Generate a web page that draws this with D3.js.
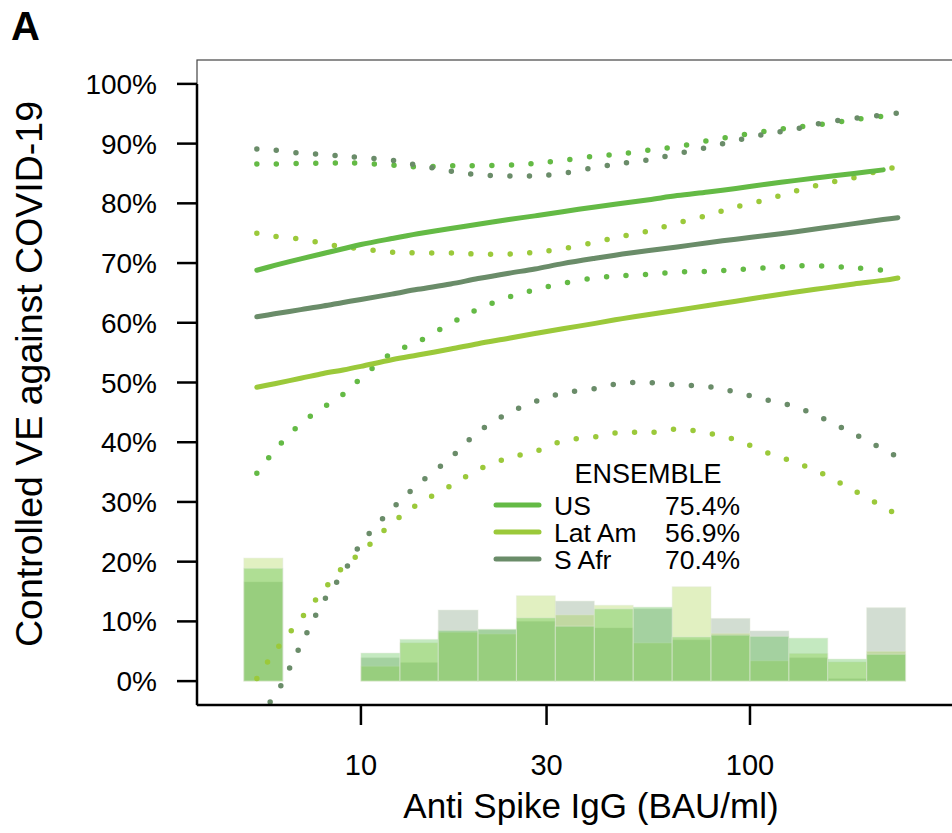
<!DOCTYPE html>
<html>
<head>
<meta charset="utf-8">
<script src="https://cdn.jsdelivr.net/npm/d3@7"></script>
<style>
  html, body { margin: 0; padding: 0; background: #ffffff; }
  svg { display: block; font-family: "Liberation Sans", Arial, Helvetica, sans-serif; }
</style>
</head>
<body>
<svg id="chart" width="952" height="833"></svg>
<script>
// Anti Spike IgG grid (BAU/ml) at which the curves are evaluated
const igg = [5.4, 6, 7, 8, 9, 10, 12, 14, 17, 20, 24, 28, 33, 40, 47, 55, 65, 78, 92, 110, 130, 155, 185, 220, 240];

// Controlled vaccine efficacy (%) with pointwise 95% bounds, per region
const usVE     = [68.8, 69.6, 70.7, 71.6, 72.4, 73.1, 74.1, 74.9, 75.8, 76.5, 77.3, 77.9, 78.6, 79.4, 80.0, 80.6, 81.3, 81.9, 82.5, 83.2, 83.8, 84.4, 85.0, 85.6];
const usUpper  = [86.6, 86.6, 86.7, 86.7, 86.8, 86.7, 86.4, 86.1, 86.3, 86.3, 86.4, 86.7, 87.2, 87.9, 88.3, 88.9, 89.5, 90.5, 91.3, 92.1, 92.7, 93.3, 94.0, 94.6];
const usLower  = [34.8, 38.6, 43.1, 45.8, 48.0, 50.7, 54.9, 56.8, 59.9, 62.3, 64.3, 65.5, 66.6, 67.5, 67.9, 68.1, 68.5, 68.6, 68.9, 69.2, 69.5, 69.5, 69.2, 68.8];

const latVE    = [49.2, 49.8, 50.7, 51.5, 52.1, 52.7, 53.8, 54.6, 55.6, 56.5, 57.4, 58.2, 59.0, 59.9, 60.7, 61.4, 62.1, 62.9, 63.6, 64.4, 65.1, 65.8, 66.5, 67.1, 67.5];
const latUpper = [75.0, 74.5, 74.0, 73.3, 72.7, 72.4, 71.8, 71.7, 71.7, 71.5, 71.5, 71.8, 72.4, 73.5, 74.5, 75.4, 76.7, 78.0, 79.4, 80.6, 82.0, 83.3, 84.3, 85.6, 86.1];
const latLower = [0.45, 4.9, 10.4, 15.2, 19.1, 21.5, 26.4, 29.6, 32.7, 35.4, 37.4, 38.4, 40.2, 40.9, 41.7, 41.6, 42.2, 41.5, 40.4, 38.3, 36.7, 34.6, 31.9, 29.2, 27.8];

const safVE    = [61.0, 61.5, 62.2, 62.8, 63.4, 63.9, 64.8, 65.6, 66.5, 67.4, 68.3, 69.0, 69.9, 70.8, 71.5, 72.1, 72.7, 73.4, 74.0, 74.6, 75.2, 75.9, 76.6, 77.3, 77.6];
const safUpper = [89.1, 88.9, 88.4, 88.2, 87.9, 87.7, 87.2, 86.4, 85.4, 84.8, 84.6, 84.6, 85.0, 86.0, 86.7, 87.3, 88.3, 89.4, 90.5, 91.6, 92.4, 93.5, 94.2, 94.8, 95.1];
const safLower = [-5.9, -2.5, 6.0, 13.3, 18.1, 23.0, 28.8, 32.9, 37.4, 41.7, 44.9, 46.8, 48.2, 49.0, 49.9, 50.0, 49.6, 49.3, 48.4, 47.1, 46.0, 43.9, 41.4, 38.8, 37.5];

// Marker distribution: histogram breaks (BAU/ml) and percent of vaccinees per bin
const histBreaks = [5.0, 6.3, 7.9, 10, 12.6, 15.8, 20, 25.1, 31.6, 39.8, 50.1, 63.1, 79.4, 100, 125.9, 158.5, 199.5, 251.2];
const usHist  = [18.9, 0, 0, 4.7, 7.0, 8.5, 8.7, 10.6, 9.2, 12.1, 12.4, 7.4, 7.7, 7.5, 7.2, 3.7, 4.5];
const latHist = [20.6, 0, 0, 2.5, 6.4, 8.2, 7.9, 14.3, 11.1, 12.7, 6.4, 15.8, 8.0, 3.4, 4.6, 3.2, 5.0];
const safHist = [16.6, 0, 0, 3.9, 3.1, 11.9, 8.6, 10.0, 13.4, 8.9, 12.1, 6.9, 10.5, 8.4, 3.9, 0.4, 12.3];

// Axis ticks and legend
const yTicks = [0, 10, 20, 30, 40, 50, 60, 70, 80, 90, 100];
const xTicks = [10, 30, 100];
const legendNames = ["US", "Lat Am", "S Afr"];
const legendVE = ["75.4%", "56.9%", "70.4%"];

const regions = {
  us:  { line: "#64ba45", hist: "#3bb72f", ve: usVE,  lo: usLower,  hi: usUpper,  h: usHist },
  lat: { line: "#9bc93a", hist: "#9acd32", ve: latVE, lo: latLower, hi: latUpper, h: latHist },
  saf: { line: "#6a8c69", hist: "#6b8e6b", ve: safVE, lo: safLower, hi: safUpper, h: safHist }
};
const legendOrder = [regions.us, regions.lat, regions.saf];
const histOrder = [regions.saf, regions.lat, regions.us];

const svg = d3.select("#chart");
// the plotting region runs on past the right edge of the panel
const L = 197, R = 960, T = 60, B = 705;

const x = d3.scaleLog().domain([3.79, 346.6]).range([L, R]);
const y = d3.scaleLinear().domain([-4, 104]).range([B, T]);

svg.append("defs").append("clipPath").attr("id", "plotclip")
  .append("rect").attr("x", L).attr("y", T).attr("width", R - L).attr("height", B - T);

// thin frame of the plotting region
svg.append("rect")
  .attr("x", L).attr("y", T).attr("width", R - L).attr("height", B - T)
  .attr("fill", "none").attr("stroke", "#444").attr("stroke-width", 1.2);

const plot = svg.append("g").attr("clip-path", "url(#plotclip)");

// histograms, overlaid with transparency
histOrder.forEach(r => {
  plot.append("g").selectAll("rect")
    .data(r.h)
    .join("rect")
    .attr("x", (d, i) => x(histBreaks[i]))
    .attr("width", (d, i) => x(histBreaks[i + 1]) - x(histBreaks[i]))
    .attr("y", d => y(d))
    .attr("height", d => y(0) - y(d))
    .attr("fill", r.hist)
    .attr("fill-opacity", 0.3)
    .attr("stroke", "#e4ebdc")
    .attr("stroke-opacity", 0.45)
    .attr("stroke-width", 1);
});

const curve = d3.line()
  .x(d => x(d[0]))
  .y(d => y(d[1]))
  .curve(d3.curveCatmullRom.alpha(0.5));

// confidence bounds as dotted lines
legendOrder.forEach(r => {
  [r.lo, r.hi].forEach(band => {
    plot.append("path")
      .attr("d", curve(band.map((v, i) => [igg[i], v])))
      .attr("fill", "none")
      .attr("stroke", r.line)
      .attr("stroke-width", 5.5)
      .attr("stroke-linecap", "round")
      .attr("stroke-dasharray", "0 19.6");
  });
});

// point estimates
legendOrder.forEach(r => {
  plot.append("path")
    .attr("d", curve(r.ve.map((v, i) => [igg[i], v])))
    .attr("fill", "none")
    .attr("stroke", r.line)
    .attr("stroke-width", 5)
    .attr("stroke-linecap", "round");
});

// y axis
const yAxis = svg.append("g");
yAxis.append("line")
  .attr("x1", L).attr("x2", L).attr("y1", y(100)).attr("y2", B)
  .attr("stroke", "#000").attr("stroke-width", 2.5);
yAxis.selectAll("line.tick").data(yTicks).join("line").attr("class", "tick")
  .attr("x1", L - 20).attr("x2", L).attr("y1", d => y(d)).attr("y2", d => y(d))
  .attr("stroke", "#000").attr("stroke-width", 2.5);
yAxis.selectAll("text").data(yTicks).join("text")
  .attr("x", L - 40).attr("y", d => y(d) + 10)
  .attr("text-anchor", "end")
  .attr("font-size", 28)
  .text(d => d + "%");

// x axis
const xAxis = svg.append("g");
xAxis.append("line")
  .attr("x1", L).attr("x2", R).attr("y1", B).attr("y2", B)
  .attr("stroke", "#000").attr("stroke-width", 2.5);
xAxis.selectAll("line.tick").data(xTicks).join("line").attr("class", "tick")
  .attr("x1", d => x(d)).attr("x2", d => x(d)).attr("y1", B).attr("y2", B + 20)
  .attr("stroke", "#000").attr("stroke-width", 2.5);
xAxis.selectAll("text").data(xTicks).join("text")
  .attr("x", d => x(d)).attr("y", 775)
  .attr("text-anchor", "middle")
  .attr("font-size", 29)
  .text(d => d);

// axis titles
svg.append("text")
  .attr("x", 591).attr("y", 818)
  .attr("text-anchor", "middle")
  .attr("font-size", 35)
  .text("Anti Spike IgG (BAU/ml)");
svg.append("text")
  .attr("transform", "translate(42,374) rotate(-90)")
  .attr("text-anchor", "middle")
  .attr("font-size", 37.5)
  .text("Controlled VE against COVID-19");

// panel letter
svg.append("text")
  .attr("x", 11).attr("y", 40)
  .attr("font-size", 40).attr("font-weight", "bold")
  .text("A");

// legend
const lg = svg.append("g");
lg.append("text")
  .attr("x", 648).attr("y", 483)
  .attr("text-anchor", "middle")
  .attr("font-size", 27)
  .text("ENSEMBLE");
legendNames.forEach((name, i) => {
  const yy = 505 + i * 27;
  lg.append("line")
    .attr("x1", 496).attr("x2", 539).attr("y1", yy).attr("y2", yy)
    .attr("stroke", legendOrder[i].line).attr("stroke-width", 5).attr("stroke-linecap", "round");
  lg.append("text").attr("x", 554).attr("y", yy + 9.5).attr("font-size", 26.5).text(name);
  lg.append("text").attr("x", 665).attr("y", yy + 9.5).attr("font-size", 26.5).text(legendVE[i]);
});
</script>
</body>
</html>
